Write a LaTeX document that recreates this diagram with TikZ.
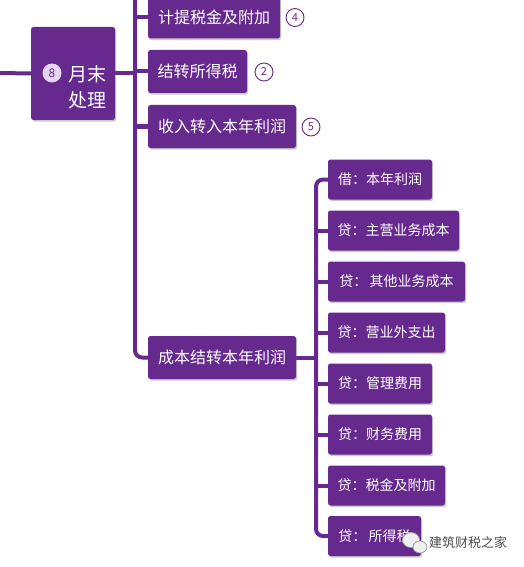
\documentclass[tikz,border=0pt]{standalone}
\usepackage{fontspec}
\setmainfont{Noto Sans CJK SC}
\usetikzlibrary{shadows}
\pgfdeclarelayer{back}
\pgfdeclarelayer{lines}
\pgfsetlayers{back,lines,main}
\definecolor{pur}{HTML}{662A8F}
\definecolor{lav}{HTML}{E3D6EE}
\tikzset{
  box/.style={fill=pur, text=white, rounded corners=2.5pt, inner sep=0pt,
    drop shadow={shadow xshift=1.2pt, shadow yshift=-1.6pt, opacity=0.35, fill=black!60}},
  lvl/.style={box, minimum height=43pt, font=\fontsize{16}{18}\selectfont},
  sub/.style={box, minimum height=40pt, font=\fontsize{14}{16}\selectfont},
  conn/.style={draw=pur, line width=4pt},
  num/.style={circle, draw=pur, line width=0.9pt, fill=white, text=pur, minimum size=18pt, inner sep=0pt, font=\fontsize{11}{12}\selectfont},
  bubble/.style={fill=gray!12, draw=gray!75, line width=0.8pt},
}
\begin{document}
\begin{tikzpicture}[x=1pt,y=-1pt]
\useasboundingbox (0,0) rectangle (523,567);
\clip (0,0) rectangle (523,567);
\begin{pgfonlayer}{back}
\fill[white] (0,0) rectangle (523,567);
\end{pgfonlayer}
% coordinates
\coordinate (L) at (0,73);
\coordinate (T1) at (135,-10);
\coordinate (T2) at (316,0);
% main box
\node[box, minimum width=84pt, minimum height=93pt] (main) at (73,73.5) {};
\node[circle, fill=lav, text=pur, minimum size=19pt, inner sep=0pt, font=\fontsize{12}{13}\selectfont] (c8) at (52,73) {8};
\node[text=white, font=\fontsize{19}{26}\selectfont, align=left, inner sep=0pt] (mt) at (87,87) {月末\\处理};
% level 1 boxes
\node[lvl, minimum width=132pt] (b1) at (214,17) {计提税金及附加};
\node[lvl, minimum width=99pt] (b2) at (197.5,71.5) {结转所得税};
\node[lvl, minimum width=148pt] (b3) at (222,126.5) {收入转入本年利润};
\node[lvl, minimum width=148pt] (b4) at (222,357.5) {成本结转本年利润};
% sub boxes
\node[sub, minimum width=104pt] (s1) at (380,179.5) {借：本年利润};
\node[sub, minimum width=131pt] (s2) at (393.5,230.5) {贷：主营业务成本};
\node[sub, minimum width=137pt] (s3) at (396.5,281.5) {贷：\,其他业务成本};
\node[sub, minimum width=117pt] (s4) at (386.5,332.5) {贷：营业外支出};
\node[sub, minimum width=104pt] (s5) at (380,383.5) {贷：管理费用};
\node[sub, minimum width=104pt] (s6) at (380,434.5) {贷：财务费用};
\node[sub, minimum width=117pt] (s7) at (386.5,485.5) {贷：税金及附加};
\node[sub, minimum width=93pt] (s8) at (374.5,536) {贷：\,所得税};
% number circles
\node[num] (n4) at (295,17.5) {4};
\node[num] (n2) at (264,72) {2};
\node[num] (n5) at (311,127) {5};
% connectors
\begin{pgfonlayer}{lines}
\draw[conn] (L) -- (main.west);
\draw[conn] (main.east) -- (T1 |- main.east);
\draw[conn, rounded corners=7pt] (T1) |- (b4.west);
\draw[conn] (T1 |- b1.west) -- (b1.west);
\draw[conn] (T1 |- b2.west) -- (b2.west);
\draw[conn] (T1 |- b3.west) -- (b3.west);
\draw[conn] (b4.east) -- (T2 |- b4.east);
\draw[conn, rounded corners=7pt] (s1.west) -| (T2 |- s8.west) -- (s8.west);
\foreach \s in {s2,s3,s4,s5,s6,s7}{\draw[conn] (T2 |- \s.west) -- (\s.west);}
\end{pgfonlayer}
% signature
\path[bubble] (411,540) ellipse (8.5pt and 7.5pt);
\path[bubble] (420,547) ellipse (7pt and 6pt);
\node[text=black!70, font=\fontsize{13}{14}\selectfont, anchor=west, inner sep=0pt] (wm) at (429,543) {建筑财税之家};
\end{tikzpicture}
\end{document}
